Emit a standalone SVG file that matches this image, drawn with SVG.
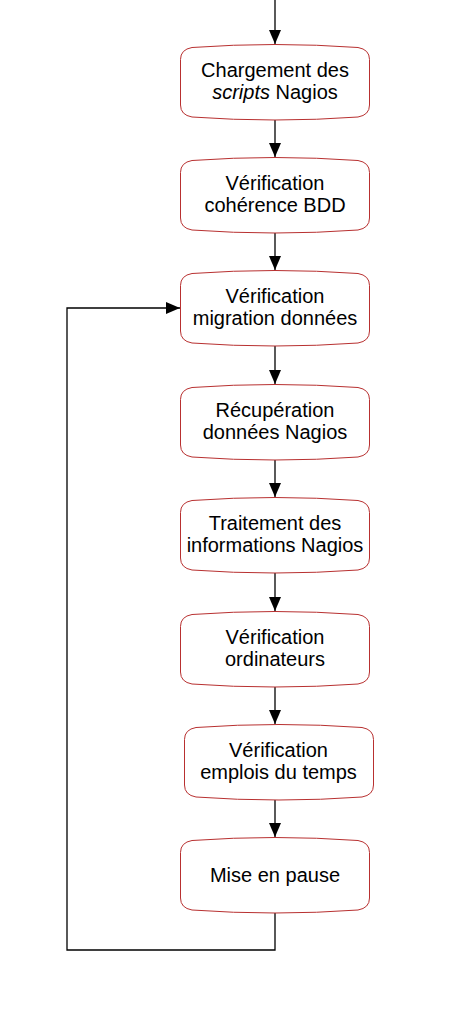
<svg xmlns="http://www.w3.org/2000/svg" width="451" height="1009" viewBox="0 0 451 1009">
<style>
.box{fill:#fff;stroke:#b83030;stroke-width:1}
.t{font-family:"Liberation Sans",Arial,sans-serif;font-size:20px;fill:#000;text-anchor:middle}
.c{fill:none;stroke:#000;stroke-width:1.3}
</style>
<defs>
<marker id="ah" markerWidth="14" markerHeight="12" refX="14" refY="6" orient="auto" markerUnits="userSpaceOnUse">
<path d="M0,0 L14,6 L0,12 Z" fill="#000"/>
</marker>
<path id="shape" class="box" d="M11.5,3 Q94.5,-3 177.5,3 Q189,5 189,15 V60.5 Q189,70.5 177.5,72.5 Q94.5,78.5 11.5,72.5 Q0,70.5 0,60.5 V15 Q0,5 11.5,3 Z"/>
</defs>
<rect width="451" height="1009" fill="#fff"/>
<g id="connectors">
<path class="c" d="M275,0 V44" marker-end="url(#ah)"/>
<path class="c" d="M275,119 V157" marker-end="url(#ah)"/>
<path class="c" d="M275,232 V270" marker-end="url(#ah)"/>
<path class="c" d="M275,346 V384" marker-end="url(#ah)"/>
<path class="c" d="M275,459 V497" marker-end="url(#ah)"/>
<path class="c" d="M275,573 V611" marker-end="url(#ah)"/>
<path class="c" d="M275,686 V724" marker-end="url(#ah)"/>
<path class="c" d="M275,799 V837" marker-end="url(#ah)"/>
<path class="c" d="M275,913 V950 H67 V308 H180" marker-end="url(#ah)"/>
</g>
<g id="n1"><use href="#shape" x="180.5" y="44.5"/>
<text class="t" x="275" y="77">Chargement des</text>
<text class="t" x="275" y="99"><tspan font-style="italic">scripts</tspan> Nagios</text></g>
<g id="n2"><use href="#shape" x="180.5" y="157.5"/>
<text class="t" x="275" y="190">Vérification</text>
<text class="t" x="275" y="212">cohérence BDD</text></g>
<g id="n3"><use href="#shape" x="180.5" y="270.5"/>
<text class="t" x="275" y="303">Vérification</text>
<text class="t" x="275" y="325">migration données</text></g>
<g id="n4"><use href="#shape" x="180.5" y="384.5"/>
<text class="t" x="275" y="417">Récupération</text>
<text class="t" x="275" y="439">données Nagios</text></g>
<g id="n5"><use href="#shape" x="180.5" y="497.5"/>
<text class="t" x="275" y="530">Traitement des</text>
<text class="t" x="275" y="552">informations Nagios</text></g>
<g id="n6"><use href="#shape" x="180.5" y="611.5"/>
<text class="t" x="275" y="644">Vérification</text>
<text class="t" x="275" y="666">ordinateurs</text></g>
<g id="n7"><use href="#shape" x="184.5" y="724.5"/>
<text class="t" x="278.5" y="757">Vérification</text>
<text class="t" x="278.5" y="779">emplois du temps</text></g>
<g id="n8"><use href="#shape" x="180.5" y="837.5"/>
<text class="t" x="275" y="882">Mise en pause</text></g>
</svg>
